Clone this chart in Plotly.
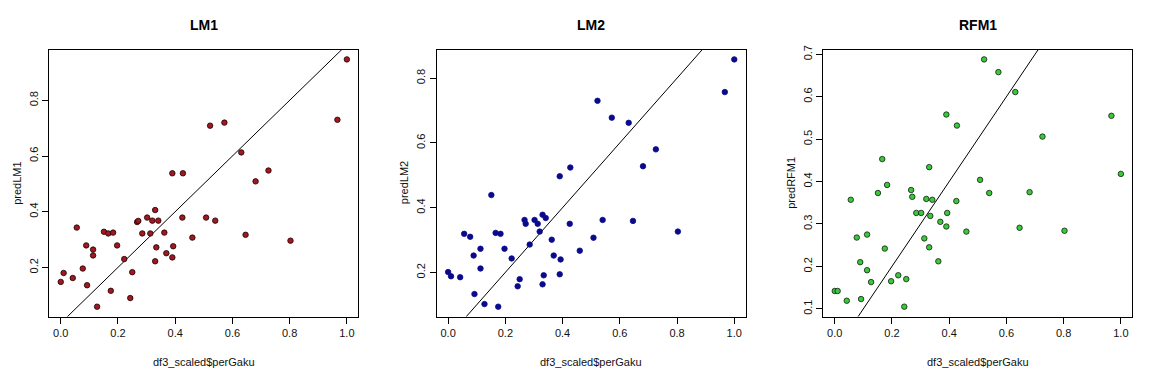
import plotly.graph_objects as go

perGaku = [0.0, 0.01, 0.042, 0.056, 0.077, 0.089, 0.092, 0.113, 0.113, 0.127,
           0.151, 0.166, 0.183, 0.175, 0.197, 0.222, 0.243, 0.25, 0.267, 0.271,
           0.285, 0.302, 0.313, 0.32, 0.33, 0.341, 0.334, 0.33, 0.362, 0.369,
           0.39, 0.393, 0.39, 0.427, 0.425, 0.46, 0.508, 0.522, 0.54, 0.572,
           0.631, 0.646, 0.681, 0.726, 0.803, 0.967, 1.0]

predLM1 = [0.148, 0.180, 0.162, 0.343, 0.196, 0.279, 0.136, 0.264, 0.243, 0.059,
           0.328, 0.322, 0.325, 0.116, 0.279, 0.230, 0.090, 0.183, 0.363, 0.367,
           0.322, 0.379, 0.322, 0.368, 0.406, 0.368, 0.272, 0.222, 0.325, 0.251,
           0.538, 0.276, 0.236, 0.538, 0.379, 0.307, 0.379, 0.709, 0.368, 0.720,
           0.613, 0.317, 0.509, 0.548, 0.296, 0.730, 0.947]

predLM2 = [0.201, 0.188, 0.185, 0.319, 0.310, 0.252, 0.133, 0.273, 0.212, 0.102,
           0.439, 0.322, 0.319, 0.094, 0.273, 0.243, 0.157, 0.179, 0.362, 0.350,
           0.286, 0.362, 0.350, 0.326, 0.378, 0.368, 0.191, 0.163, 0.301, 0.252,
           0.497, 0.240, 0.194, 0.524, 0.350, 0.267, 0.307, 0.730, 0.362, 0.678,
           0.662, 0.359, 0.528, 0.580, 0.326, 0.757, 0.858]

predRFM1 = [0.142, 0.142, 0.119, 0.357, 0.268, 0.210, 0.123, 0.275, 0.191, 0.163,
            0.373, 0.453, 0.392, 0.242, 0.165, 0.179, 0.105, 0.170, 0.380, 0.364,
            0.326, 0.326, 0.266, 0.359, 0.434, 0.357, 0.319, 0.245, 0.212, 0.305,
            0.558, 0.326, 0.294, 0.532, 0.354, 0.282, 0.404, 0.688, 0.373, 0.658,
            0.611, 0.291, 0.375, 0.506, 0.284, 0.555, 0.418]

titles = ["LM1", "LM2", "RFM1"]
ylabels = ["predLM1", "predLM2", "predRFM1"]
xlabel = "df3_scaled$perGaku"
series = [predLM1, predLM2, predRFM1]
fills = ["#A01822", "#0A0A8C", "#3CC83C"]
outlines = ["#1a0000", "#0A0A8C", "#102010"]
yticks = [[0.2, 0.4, 0.6, 0.8], [0.2, 0.4, 0.6, 0.8], [0.1, 0.2, 0.3, 0.4, 0.5, 0.6, 0.7]]
xticks = [0.0, 0.2, 0.4, 0.6, 0.8, 1.0]

W, H = 1151, 369
box_left = [49.3, 436.7, 823.3]
box_w = 309.0
box_top, box_bot = 46.0, 316.0

FONT = "Liberation Sans, Arial, sans-serif"

def padded(vals):
    lo, hi = min(vals), max(vals)
    d = (hi - lo) * 0.04
    return [lo - d, hi + d]

fig = go.Figure()
annotations = []
for i in range(3):
    xa = "x" if i == 0 else f"x{i+1}"
    ya = "y" if i == 0 else f"y{i+1}"
    xr = padded(perGaku)
    yr = padded(series[i])
    # identity line
    fig.add_trace(go.Scatter(x=[xr[0] - 1, xr[1] + 1], y=[xr[0] - 1, xr[1] + 1],
                             mode="lines", line=dict(color="black", width=1),
                             xaxis=xa, yaxis=ya, showlegend=False, hoverinfo="skip"))
    fig.add_trace(go.Scatter(x=perGaku, y=series[i], mode="markers",
                             marker=dict(size=5.5, color=fills[i],
                                         line=dict(color=outlines[i], width=0.8)),
                             xaxis=xa, yaxis=ya, showlegend=False))
    d0 = box_left[i] / W
    d1 = (box_left[i] + box_w) / W
    axis_common = dict(showline=True, linecolor="black", linewidth=1, mirror=True,
                       ticks="outside", ticklen=6, tickcolor="black", tickwidth=1,
                       showgrid=False, zeroline=False,
                       tickfont=dict(family=FONT, size=11, color="#111"))
    layout_x = dict(domain=[d0, d1], range=xr, tickvals=xticks, tickformat=".1f",
                    anchor=ya, **axis_common)
    layout_y = dict(domain=[1 - box_bot / H, 1 - box_top / H], range=yr,
                    tickvals=yticks[i], tickformat=".1f", tickangle=-90,
                    anchor=xa, **axis_common)
    fig.update_layout(**{("xaxis" if i == 0 else f"xaxis{i+1}"): layout_x,
                         ("yaxis" if i == 0 else f"yaxis{i+1}"): layout_y})
    cx = (d0 + d1) / 2
    annotations.append(dict(text=f"<b>{titles[i]}</b>", x=cx, y=1 - 21 / H,
                            xref="paper", yref="paper", showarrow=False,
                            xanchor="center", yanchor="middle",
                            font=dict(family=FONT, size=14, color="black")))
    annotations.append(dict(text=xlabel, x=cx, y=1 - 362 / H, xref="paper", yref="paper",
                            showarrow=False, xanchor="center", yanchor="middle",
                            font=dict(family=FONT, size=11, color="#111")))
    annotations.append(dict(text=ylabels[i], x=(box_left[i] - 32.5) / W,
                            y=1 - ((box_top + box_bot) / 2) / H,
                            xref="paper", yref="paper", showarrow=False, textangle=-90,
                            xanchor="center", yanchor="middle",
                            font=dict(family=FONT, size=11, color="#111")))

fig.update_layout(width=W, height=H, margin=dict(l=0, r=0, t=0, b=0),
                  paper_bgcolor="white", plot_bgcolor="white",
                  annotations=annotations, showlegend=False)
fig.write_html("out.html", config={"displayModeBar": False},
               post_script="document.body.style.margin='0';document.body.style.overflow='hidden';")
